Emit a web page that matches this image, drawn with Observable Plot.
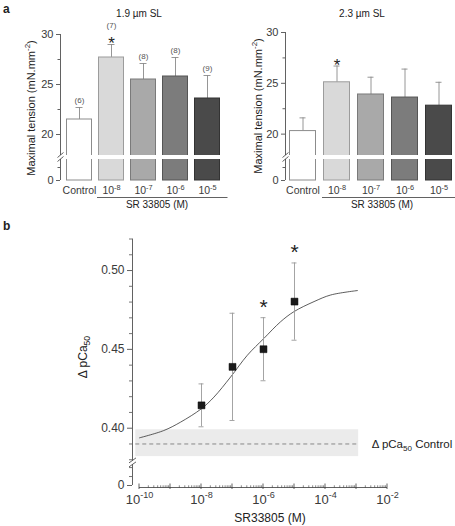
<!DOCTYPE html>
<html><head><meta charset="utf-8">
<script src="https://cdn.jsdelivr.net/npm/d3@7"></script>
<script src="https://cdn.jsdelivr.net/npm/@observablehq/plot@0.6"></script>
<style>
html,body{margin:0;padding:0;background:#fff;}
#root{position:relative;width:455px;height:526px;overflow:hidden;font-family:"Liberation Sans",Arial,Helvetica,sans-serif;color:#222;}
#root svg{position:absolute;left:0;top:0;overflow:visible;}
.lab{position:absolute;white-space:nowrap;line-height:1;}
.lab sub,.lab sup{font-size:72%;line-height:0;}
</style></head><body><div id="root"></div>
<script>
// ---------- data: panel a ----------
const concentrations = ["Control", "1e-8", "1e-7", "1e-6", "1e-5"];
const tickLabels = ["Control", "10^{-8}", "10^{-7}", "10^{-6}", "10^{-5}"];
const tension19 = [21.5, 27.7, 25.5, 25.8, 23.6];
const sem19 = [1.2, 1.3, 1.6, 1.9, 2.3];
const nCells19 = ["(6)", "(7)", "(8)", "(8)", "(9)"];
const signif19 = [false, true, false, false, false];
const tension23 = [20.3, 25.1, 23.9, 23.6, 22.8];
const sem23 = [1.3, 1.6, 1.7, 2.8, 2.3];
const signif23 = [false, true, false, false, false];
const barFills = ["#ffffff", "#d9d9d9", "#a9a9a9", "#7c7c7c", "#4a4a4a"];
const barStrokes = ["#8c8c8c", "#9c9c9c", "#7a7a7a", "#555555", "#333333"];
const tensionTicks = [0, 20, 25, 30];
const tensionMinorTicks = [10, 22.5, 27.5];
const tensionBreak = 17.7;

// ---------- data: panel b ----------
const srDose = [1e-8, 1e-7, 1e-6, 1e-5];
const dPCa = [0.4145, 0.4389, 0.4501, 0.4803];
const dPCaSem = [0.0136, 0.034, 0.020, 0.0245];
const dPCaSignif = [false, false, true, true];
const fitLogDose = [-10, -9.22, -8.68, -8.0, -7.6, -7.06, -6.52, -5.99, -5.45, -5.02, -4.37, -3.83, -2.97];
const fitPCa = [0.3939, 0.3985, 0.4038, 0.4124, 0.4197, 0.4325, 0.4463, 0.4569, 0.4675, 0.4739, 0.4803, 0.4845, 0.4873];
const controlMean = 0.390, controlLow = 0.382, controlHigh = 0.399;
const controlLogExtent = [-10.12, -2.93];
const pcaTicks = [0, 0.40, 0.45, 0.50];
const pcaMinorTicks = [0.15, 0.30, 0.38, 0.39, 0.41, 0.42, 0.43, 0.44, 0.46, 0.47, 0.48, 0.49, 0.51, 0.52];
const pcaBreak = 0.378;
const doseLabelTicks = [1e-10, 1e-8, 1e-6, 1e-4, 1e-2];

// ---------- helpers ----------
const W = 455, H = 526;
const FONT = '"Liberation Sans", Arial, Helvetica, sans-serif';
const AXIS = "#3a3a3a", ERR = "#8a8a8a";
const root = document.getElementById("root");
const SVGNS = "http://www.w3.org/2000/svg";

// turn "a^{b}" / "a_{b}" into tspans; tickFs for axis tick labels, textFs for other texts
function richText(svg, tickFs, textFs) {
  svg.querySelectorAll("text").forEach(el => {
    const s = el.textContent;
    if (!/[\^_]\{/.test(s) || el.querySelector("tspan")) return;
    const isTick = !!el.closest('[aria-label*="tick label"]');
    const fs = isTick ? tickFs : textFs;
    el.setAttribute("font-size", fs);
    el.style.fontSize = fs + "px";
    el.textContent = "";
    const re = /([\^_])\{([^}]*)\}/g;
    let last = 0, cur = 0, m;
    const add = (txt, off, size) => {
      const t = document.createElementNS(SVGNS, "tspan");
      t.textContent = txt;
      if (off !== cur) t.setAttribute("dy", off - cur);
      t.setAttribute("font-size", size);
      t.style.fontSize = size + "px";
      cur = off;
      el.appendChild(t);
    };
    while ((m = re.exec(s))) {
      if (m.index > last) add(s.slice(last, m.index), 0, fs);
      add(m[2], m[1] === "^" ? -0.42 * fs : 0.3 * fs, 0.7 * fs);
      last = re.lastIndex;
    }
    if (last < s.length) add(s.slice(last), 0, fs);
  });
}

function label(html, x, y, {size = 11, rotate = 0, weight = "normal", anchor = "middle"} = {}) {
  const d = document.createElement("div");
  d.className = "lab";
  d.innerHTML = html;
  d.style.left = x + "px";
  d.style.top = y + "px";
  d.style.fontSize = size + "px";
  d.style.fontWeight = weight;
  const tx = anchor === "start" ? "0" : "-50%";
  d.style.transform = `translate(${tx},-50%) rotate(${rotate}deg)`;
  root.appendChild(d);
}

function place(plot, tickFs, textFs) {
  root.appendChild(plot);
  richText(plot, tickFs, textFs);
}

// ---------- panel a: bar charts ----------
const BAR_TICK_FS = 10.5;
function barPanel({tension, sem, nCells, signif, xRange, yRange, axisX, capInset}) {
  const data = concentrations.map((c, i) => ({
    c, v: tension[i], top: tension[i] + sem[i], n: nCells ? nCells[i] : null,
    sig: signif[i], fill: barFills[i], stroke: barStrokes[i]
  }));
  const decor = (index, scales, values, dims) => {
    const g = d3.create("svg:g").attr("fill", "none").attr("stroke", AXIS);
    const x0 = dims.marginLeft + 0.5;
    const yb = scales.y(tensionBreak);
    g.append("rect").attr("x", x0 - 4).attr("y", yb - 2)
      .attr("width", dims.width - dims.marginRight - x0 + 8).attr("height", 4)
      .attr("fill", "white").attr("stroke", "none");
    for (const o of [-2, 2]) {
      g.append("line").attr("x1", x0 - 3).attr("x2", x0 + 3)
        .attr("y1", yb + o + 2.5).attr("y2", yb + o - 2.5).attr("stroke-width", 0.8);
    }
    const xs = scales.x(concentrations[1]) - 1;
    g.append("line").attr("x1", xs).attr("x2", dims.width - dims.marginRight + 3)
      .attr("y1", scales.y(0) + 17.5).attr("y2", scales.y(0) + 17.5).attr("stroke-width", 0.8);
    return g.node();
  };
  const axisLine = (index, scales, values, dims) => {
    const x0 = dims.marginLeft + 0.5;
    return d3.create("svg:line").attr("x1", x0).attr("x2", x0)
      .attr("y1", scales.y(tensionTicks[tensionTicks.length - 1])).attr("y2", scales.y(0))
      .attr("stroke", AXIS).attr("stroke-width", 0.8).node();
  };
  return Plot.plot({
    width: W, height: H,
    marginLeft: axisX, marginRight: W - xRange[1] - 3,
    marginTop: yRange[2], marginBottom: H - yRange[0],
    style: {background: "transparent", fontFamily: FONT, color: AXIS, overflow: "visible"},
    x: {type: "band", domain: concentrations, range: xRange, label: null,
        paddingInner: 0.2, paddingOuter: 0, align: 0.5},
    y: {type: "linear", domain: [0, tensionBreak, 30], range: yRange, label: null},
    color: {type: "identity"},
    marks: [
      Plot.ruleX(data, {x: "c", y1: "v", y2: "top", stroke: ERR, strokeWidth: 0.9}),
      Plot.tickY(data, {x: "c", y: "top", stroke: ERR, strokeWidth: 0.9, insetLeft: capInset, insetRight: capInset}),
      Plot.barY(data, {x: "c", y: "v", fill: "fill", stroke: "stroke", strokeWidth: 1, insetLeft: 0.5, insetRight: 0.5}),
      axisLine,
      decor,
      Plot.text(data.filter(d => d.n && !d.sig), {x: "c", y: "top", text: "n", dy: -7, fontSize: 8, fill: "#555"}),
      Plot.text(data.filter(d => d.n && d.sig), {x: "c", y: "top", text: "n", dy: -19, fontSize: 8, fill: "#555"}),
      Plot.text(data.filter(d => d.sig), {x: "c", y: "top", text: () => "*", fontSize: 17, lineAnchor: "bottom", dy: 4.5, fill: "#222"}),
      Plot.axisY({ticks: tensionTicks, tickSize: 4, tickPadding: 3, fontSize: 11, label: null, tickFormat: d => String(d), strokeWidth: 0.8}),
      Plot.axisY({ticks: tensionMinorTicks, tickSize: 2.5, label: null, tickFormat: () => "", strokeWidth: 0.8}),
      Plot.axisX({tickSize: 0, tickPadding: 6, fontSize: BAR_TICK_FS, label: null, tickFormat: d => tickLabels[concentrations.indexOf(d)]})
    ]
  });
}

place(barPanel({tension: tension19, sem: sem19, nCells: nCells19, signif: signif19,
  xRange: [63.5, 221.5], yRange: [180, 157, 34], axisX: 60, capInset: 9.5}), BAR_TICK_FS, 10);
place(barPanel({tension: tension23, sem: sem23, nCells: null, signif: signif23,
  xRange: [288.5, 452], yRange: [180, 157, 32], axisX: 285, capInset: 10.5}), BAR_TICK_FS, 10);

// ---------- panel b: dose-response ----------
const pts = srDose.map((x, i) => ({x, y: dPCa[i], lo: dPCa[i] - dPCaSem[i], hi: dPCa[i] + dPCaSem[i], sig: dPCaSignif[i]}));
const fit = fitLogDose.map((e, i) => ({x: 10 ** e, y: fitPCa[i]}));
const bandX1 = 10 ** controlLogExtent[0], bandX2 = 10 ** controlLogExtent[1];
const doseDecades = d3.range(-10, -1).map(e => 10 ** e);
const doseMinor = d3.range(-10, -2).flatMap(e => d3.range(2, 10).map(k => k * 10 ** e));

const decorB = (index, scales, values, dims) => {
  const g = d3.create("svg:g").attr("fill", "none").attr("stroke", AXIS).attr("stroke-width", 0.8);
  const x0 = dims.marginLeft + 0.5;
  const yb = scales.y(pcaBreak);
  const yTop = scales.y(0.52), y0 = scales.y(0);
  g.append("line").attr("x1", x0).attr("x2", x0).attr("y1", yTop).attr("y2", yb - 2);
  g.append("line").attr("x1", x0).attr("x2", x0).attr("y1", yb + 2).attr("y2", y0);
  for (const o of [-2, 2]) {
    g.append("line").attr("x1", x0 - 3.5).attr("x2", x0 + 3.5)
      .attr("y1", yb + o + 2.5).attr("y2", yb + o - 2.5);
  }
  const yx = dims.height - dims.marginBottom + 0.5;
  g.append("line").attr("x1", scales.x(doseDecades[0])).attr("x2", scales.x(doseDecades[doseDecades.length - 1]))
    .attr("y1", yx).attr("y2", yx);
  for (const d of doseDecades) {
    const x = scales.x(d);
    g.append("line").attr("x1", x).attr("x2", x).attr("y1", yx - 4).attr("y2", yx + 1.5);
  }
  for (const d of doseMinor) {
    const x = scales.x(d);
    g.append("line").attr("x1", x).attr("x2", x).attr("y1", yx - 2.2).attr("y2", yx).attr("stroke-width", 0.6);
  }
  return g.node();
};

const DOSE_TICK_FS = 13;
place(Plot.plot({
  width: W, height: H,
  marginLeft: 132, marginRight: W - 387, marginTop: 238.5, marginBottom: H - 487,
  style: {background: "transparent", fontFamily: FONT, color: AXIS, overflow: "visible"},
  x: {type: "log", domain: [1e-10, 1e-2], range: [139, 387], label: null},
  y: {type: "linear", domain: [0, pcaBreak, 0.52], range: [485, 462.4, 238.5], label: null},
  marks: [
    Plot.rect([0], {x1: bandX1, x2: bandX2, y1: controlLow, y2: controlHigh, fill: "#ebebeb"}),
    Plot.ruleY([controlMean], {x1: bandX1, x2: bandX2, stroke: "#6e6e6e", strokeWidth: 0.8, strokeDasharray: "4,3"}),
    Plot.line(fit, {x: "x", y: "y", curve: "catmull-rom", stroke: "#333", strokeWidth: 0.8}),
    Plot.ruleX(pts, {x: "x", y1: "lo", y2: "hi", stroke: "#9a9a9a", strokeWidth: 0.9}),
    Plot.ruleY(pts, {x1: "x", x2: "x", y: "hi", insetLeft: -2.5, insetRight: -2.5, stroke: "#9a9a9a", strokeWidth: 0.9}),
    Plot.ruleY(pts, {x1: "x", x2: "x", y: "lo", insetLeft: -2.5, insetRight: -2.5, stroke: "#9a9a9a", strokeWidth: 0.9}),
    Plot.dot(pts, {x: "x", y: "y", symbol: "square", r: 3.9, fill: "#1a1a1a", stroke: "#000", strokeWidth: 0.5}),
    Plot.text(pts.filter(d => d.sig), {x: "x", y: "hi", text: () => "*", fontSize: 21, lineAnchor: "bottom", dy: -4, fill: "#222"}),
    Plot.text([0], {x: bandX2, y: controlMean, text: () => "\u0394 pCa_{50} Control", textAnchor: "start", dx: 13, fontSize: 11.5, fill: "#222"}),
    decorB,
    Plot.axisY({ticks: pcaTicks, tickSize: 5, tickPadding: 3, fontSize: 12, label: null, strokeWidth: 0.8,
      tickFormat: d => d === 0 ? "0" : d.toFixed(2)}),
    Plot.axisY({ticks: pcaMinorTicks, tickSize: 3, label: null, tickFormat: () => "", strokeWidth: 0.7}),
    Plot.axisX({ticks: doseLabelTicks, tickSize: 0, tickPadding: 7, fontSize: DOSE_TICK_FS, label: null,
      tickFormat: d => "10^{" + Math.round(Math.log10(d)) + "}"})
  ]
}), DOSE_TICK_FS, 11.5);

// ---------- titles and axis labels ----------
label("a", 3, 9, {size: 12, weight: "bold", anchor: "start"});
label("b", 3, 226, {size: 12, weight: "bold", anchor: "start"});
label("1.9 \u00b5m SL", 139, 14, {size: 10});
label("2.3 \u00b5m SL", 362, 14, {size: 10});
label("Maximal tension (mN.mm<sup>-2</sup>)", 31, 108, {size: 11, rotate: -90});
label("Maximal tension (mN.mm<sup>-2</sup>)", 258, 106, {size: 11, rotate: -90});
label("SR 33805 (M)", 157, 205, {size: 10});
label("SR 33805 (M)", 382, 205, {size: 10});
label("\u0394 pCa<sub>50</sub>", 83, 357, {size: 12, rotate: -90});
label("SR33805 (M)", 270, 518, {size: 12});
</script></body></html>
